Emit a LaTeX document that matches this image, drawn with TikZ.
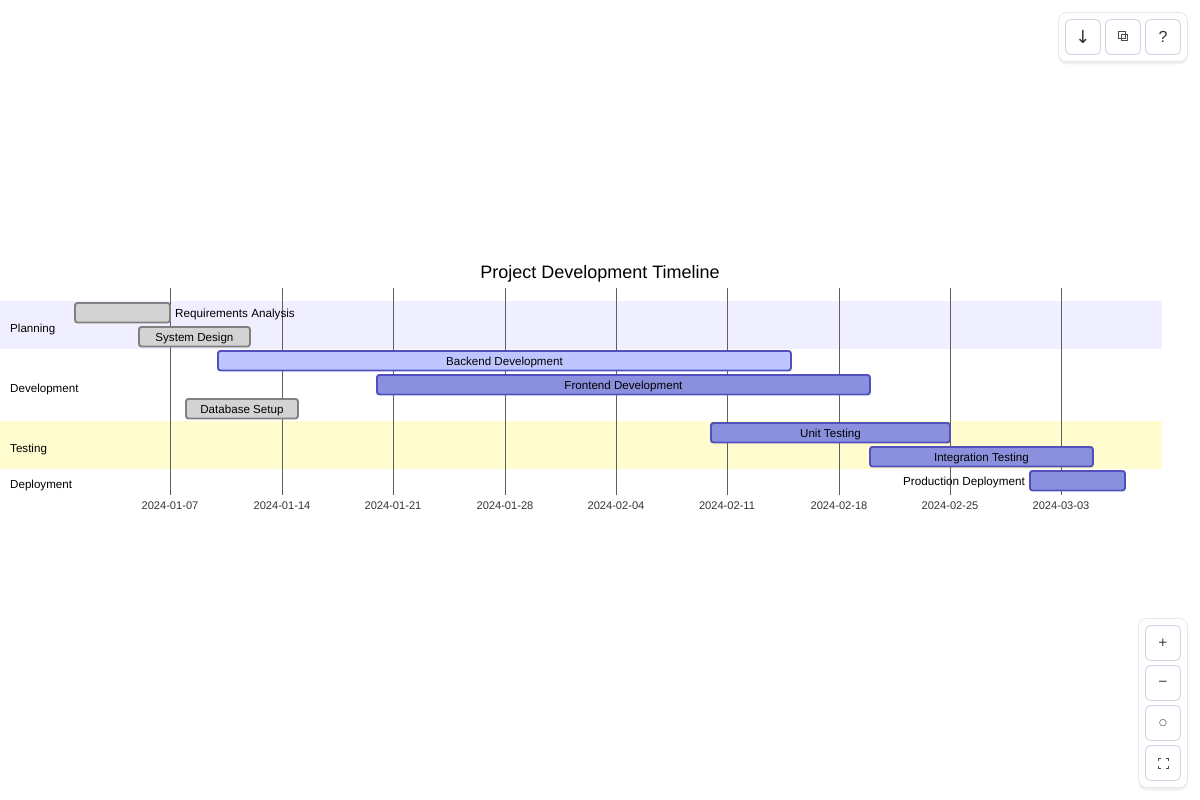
\documentclass[tikz,border=0pt]{standalone}
\usepackage{fontspec}
\setmainfont{Liberation Sans}
\newfontfamily\symfont{DejaVu Sans}
\usetikzlibrary{shadows}
\definecolor{planband}{HTML}{EFEFFF}
\definecolor{testband}{HTML}{FFFCCF}
\definecolor{doneFill}{HTML}{D3D3D3}
\definecolor{doneLine}{HTML}{808080}
\definecolor{activeFill}{HTML}{BFC6FF}
\definecolor{taskFill}{HTML}{8A90DD}
\definecolor{taskLine}{HTML}{534FBC}
\definecolor{panelLine}{HTML}{E2E8F0}
\definecolor{btnLine}{HTML}{CBD5E1}
\definecolor{gridLine}{HTML}{5F5F5F}
\begin{document}
\begin{tikzpicture}[x=1pt, y=-1pt,
  band/.style={anchor=north west, minimum height=48pt, inner sep=0pt, outer sep=0pt},
  bar/.style={anchor=north west, minimum height=19.5pt, inner sep=0pt, rounded corners=2.5pt, line width=1.9pt, font=\fontsize{11.6}{13}\selectfont, text height=10pt, text depth=0pt},
  donetask/.style={bar, draw=doneLine, fill=doneFill},
  activetask/.style={bar, draw=taskLine, fill=activeFill},
  plaintask/.style={bar, draw=taskLine, fill=taskFill},
  section/.style={anchor=west, inner sep=0pt, font=\fontsize{11.6}{13}\selectfont, text height=10pt, text depth=0pt},
  outlabel/.style={inner sep=0pt, font=\fontsize{11.7}{13}\selectfont, text height=10pt, text depth=0pt},
  tick/.style={anchor=center, inner sep=0pt, font=\fontsize{11.1}{13}\selectfont, text=black!80},
  panel/.style={draw=panelLine, fill=white, rounded corners=8pt, line width=0.8pt, inner sep=0pt, drop shadow={shadow xshift=0pt, shadow yshift=-3pt, opacity=0.06, fill=black}},
  btn/.style={draw=btnLine, fill=white, rounded corners=5pt, line width=0.8pt, minimum width=35pt, minimum height=35pt, inner sep=0pt, font=\fontsize{16}{18}\selectfont, text=black!80},
]
  \useasboundingbox (0,0) rectangle (1200,800);
  % section bands
  \node[band, fill=planband, minimum width=1162pt] (planning) at (0,301) {};
  \node[band, fill=testband, minimum width=1162pt] (testing) at (0,421) {};
  % grid and dates
  \foreach \gx/\gdate in {170/2024-01-07, 282/2024-01-14, 393/2024-01-21, 505/2024-01-28, 616/2024-02-04, 727/2024-02-11, 839/2024-02-18, 950/2024-02-25, 1061/2024-03-03} {
    \draw[gridLine, line width=0.8pt] (\gx,288) -- (\gx,495);
    \node[tick] at (\gx,506) {\gdate};
  }
  \node[anchor=center, inner sep=0pt, font=\fontsize{18}{22}\selectfont] (title) at (600,273.5) {Project Development Timeline};
  % section names
  \node[section] (lplan) at (10,327) {Planning};
  \node[section] (ldev) at (10,387) {Development};
  \node[section] (ltest) at (10,447) {Testing};
  \node[section] (ldeploy) at (10,483) {Deployment};
  % tasks
  \node[donetask, minimum width=95pt] (req) at (74,302) {};
  \node[outlabel, anchor=west] (lreq) at (175,312) {Requirements Analysis};
  \node[donetask, minimum width=111pt] (sys) at (138,326) {System Design};
  \node[activetask, minimum width=573pt] (back) at (217,350) {Backend Development};
  \node[plaintask, minimum width=493pt] (front) at (376,374) {Frontend Development};
  \node[donetask, minimum width=112pt] (db) at (185,398) {Database Setup};
  \node[plaintask, minimum width=239pt] (unit) at (710,422) {Unit Testing};
  \node[plaintask, minimum width=223pt] (integ) at (869,446) {Integration Testing};
  \node[plaintask, minimum width=95pt] (prod) at (1029,470) {};
  \node[outlabel, anchor=east] (lprod) at (1025,480) {Production Deployment};
  % top toolbar
  \node[panel, minimum width=129pt, minimum height=49pt] (toppanel) at (1123,37) {};
  \node[btn] (down) at (1083,37) {\raisebox{-3pt}{\fontsize{18}{20}\selectfont\symfont ↓}};
  \node[btn] (copy) at (1123,37) {};
  \node[btn] (help) at (1163,37) {?};
  \draw[black!70, line width=0.6pt] (1118.5,31.5) rectangle (1125,38);
  \draw[black!70, line width=0.6pt] (1121,34) rectangle (1127.5,40.5);
  % zoom toolbar
  \node[panel, minimum width=49pt, minimum height=169pt] (zoompanel) at (1163,703) {};
  \node[btn, font=\fontsize{12}{14}\selectfont] (plus) at (1163,643) {\symfont +};
  \node[btn, font=\fontsize{12}{14}\selectfont] (minus) at (1163,683) {\symfont −};
  \node[btn, font=\fontsize{9}{11}\selectfont] (reset) at (1163,723) {\symfont ○};
  \node[btn] (full) at (1163,763) {};
  \draw[black!70, line width=0.7pt] (1158,760.5) -- (1158,758) -- (1160.5,758) (1165.5,758) -- (1168,758) -- (1168,760.5)
    (1168,765.5) -- (1168,768) -- (1165.5,768) (1160.5,768) -- (1158,768) -- (1158,765.5);
\end{tikzpicture}
\end{document}
